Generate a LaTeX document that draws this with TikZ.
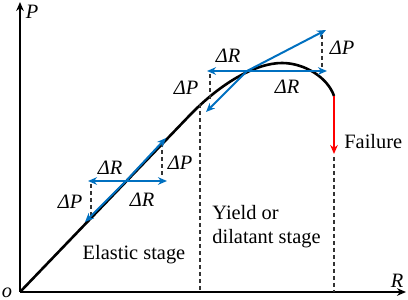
\documentclass[tikz,border=0pt]{standalone}
\usepackage{fontspec}
\setmainfont{Liberation Serif}
\usetikzlibrary{arrows.meta}
\definecolor{incblue}{RGB}{0,112,192}
\definecolor{failred}{RGB}{255,0,0}
\begin{document}
\begin{tikzpicture}[x=.5pt,y=.5pt,font=\fontsize{10.2}{12}\selectfont,
  axis/.style={line width=1pt,-{Stealth[length=4.5pt,width=3.8pt]}},
  incr/.style={incblue,line width=1pt,-{Stealth[length=4.5pt,width=3.8pt]}},
  guide/.style={black!80,line width=.6pt,dash pattern=on 2pt off 1.5pt},
  lab/.style={inner sep=0pt}]
\useasboundingbox (0,0) rectangle (408,300);
% axes
\coordinate (o) at (20,8);
\coordinate (ytip) at (20,298);
\coordinate (xtip) at (406,8);
\draw[axis] (o) -- (ytip);
\draw[axis] (o) -- (xtip);
\node[lab] (lo) at (7,7) {\textit{o}};
\node[lab] (lP) at (32,288) {\textit{P}};
\node[lab] (lR) at (397,19) {\textit{R}};
% load curve
\coordinate (knee) at (190,185);
\coordinate (peak) at (282,237);
\coordinate (fail) at (334,204);
\draw[line width=1.3pt] (o) -- (knee) .. controls (220,216) and (255,237) .. (peak)
  .. controls (305,237) and (328,222) .. (fail);
\coordinate (failtip) at (334,146);
\draw[failred,line width=1pt,-{Stealth[length=4.5pt,width=3.8pt]}] (fail) -- (failtip);
\node[lab,anchor=west] (lfail) at (344,158) {Failure};
% stage limits
\coordinate (s1top) at (200,196);
\coordinate (s1bot) at (200,8);
\coordinate (s2top) at (334,143);
\coordinate (s2bot) at (334,8);
\draw[guide] (s1top) -- (s1bot);
\draw[guide] (s2top) -- (s2bot);
% increments, elastic stage
\coordinate (c1) at (126,119);
\coordinate (l1) at (88,119);
\coordinate (r1) at (167,119);
\coordinate (u1) at (166,162);
\coordinate (d1) at (85,78);
\coordinate (g1a) at (91,116);
\coordinate (g1b) at (91,83);
\coordinate (g1c) at (162,157);
\coordinate (g1d) at (162,122);
\draw[guide] (g1a) -- (g1b);
\draw[guide] (g1c) -- (g1d);
\foreach \t in {l1,r1,u1,d1} \draw[incr] (c1) -- (\t);
\node[lab] (dR1a) at (110,132) {\textit{ΔR}};
\node[lab] (dR1b) at (142,100) {\textit{ΔR}};
\node[lab] (dP1a) at (70,98) {\textit{ΔP}};
\node[lab] (dP1b) at (180,137) {\textit{ΔP}};
% increments, yield stage
\coordinate (c2) at (247,229);
\coordinate (l2) at (207,229);
\coordinate (r2) at (327,229);
\coordinate (u2) at (326,270);
\coordinate (d2) at (206,188);
\coordinate (g2a) at (210,226);
\coordinate (g2b) at (210,200);
\coordinate (g2c) at (322,265);
\coordinate (g2d) at (322,232);
\draw[guide] (g2a) -- (g2b);
\draw[guide] (g2c) -- (g2d);
\foreach \t in {l2,r2,u2,d2} \draw[incr] (c2) -- (\t);
\node[lab] (dR2a) at (228,244) {\textit{ΔR}};
\node[lab] (dR2b) at (287,213) {\textit{ΔR}};
\node[lab] (dP2a) at (186,212) {\textit{ΔP}};
\node[lab] (dP2b) at (342,252) {\textit{ΔP}};
% stage names
\node[lab] (elastic) at (134,45) {Elastic stage};
\node[lab,anchor=west,align=left] (yield) at (212,73) {Yield or\\dilatant stage};
\end{tikzpicture}
\end{document}
